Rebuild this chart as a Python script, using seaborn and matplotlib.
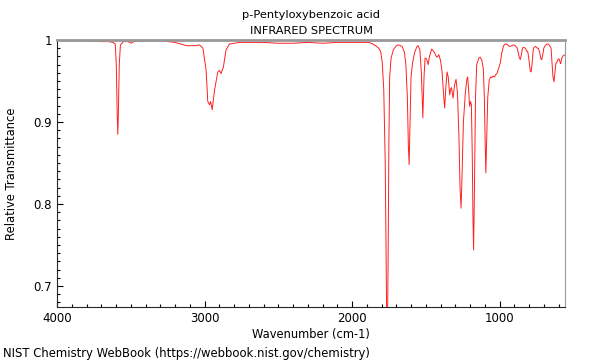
import numpy as np
import pandas as pd
import seaborn as sns
import matplotlib
matplotlib.use("Agg")
import matplotlib.pyplot as plt
from matplotlib.ticker import FixedLocator, MultipleLocator

# spectrum values (wavenumber cm-1, relative transmittance)
wavenumber = [
    4000, 3900, 3800, 3700, 3650, 3620, 3605, 3598, 3592, 3588, 3584, 3578, 3570, 3550,
    3520, 3495, 3480, 3400, 3300, 3250, 3200, 3160, 3120, 3100, 3081, 3060, 3034, 3011,
    2989, 2978, 2966, 2959, 2948, 2932, 2910, 2899, 2888, 2872, 2854, 2831, 2764, 2700,
    2600, 2500, 2400, 2300, 2200, 2100, 2000, 1950, 1900, 1885, 1860, 1840, 1820, 1806,
    1795, 1785, 1775, 1768, 1762, 1756, 1750, 1745, 1735, 1720, 1700, 1682, 1660, 1645,
    1635, 1625, 1618, 1613, 1607, 1600, 1590, 1575, 1560, 1552, 1540, 1530, 1520, 1512,
    1505, 1495, 1484, 1475, 1460, 1450, 1439, 1430, 1423, 1412, 1400, 1390, 1380, 1372,
    1365, 1356, 1348, 1338, 1332, 1326, 1320, 1315, 1305, 1295, 1285, 1275, 1268, 1261,
    1255, 1245, 1232, 1222, 1216, 1210, 1203, 1197, 1191, 1185, 1180, 1176, 1170, 1163,
    1155, 1140, 1131, 1120, 1110, 1103, 1097, 1093, 1088, 1080, 1070, 1060, 1052, 1045,
    1034, 1025, 1018, 1005, 995, 985, 973, 960, 951, 940, 930, 917, 905, 894, 880, 868,
    860, 852, 845, 838, 825, 815, 809, 800, 792, 786, 780, 772, 766, 755, 745, 737, 728,
    720, 714, 707, 700, 691, 680, 669, 660, 651, 645, 638, 631, 625, 618, 613, 605, 597,
    590, 586, 578, 568, 555,
]
transmittance = [
    0.999, 0.999, 0.999, 0.998, 0.998, 0.997, 0.995, 0.97, 0.91, 0.885, 0.91, 0.97, 0.994, 0.998,
    0.998, 0.996, 0.998, 0.999, 0.999, 0.998, 0.997, 0.995, 0.993, 0.993, 0.993, 0.993, 0.994, 0.99,
    0.963, 0.925, 0.921, 0.925, 0.915, 0.939, 0.961, 0.963, 0.959, 0.967, 0.988, 0.995, 0.997, 0.997,
    0.997, 0.996, 0.996, 0.997, 0.996, 0.997, 0.997, 0.997, 0.997, 0.997, 0.995, 0.993, 0.99, 0.986,
    0.972, 0.94, 0.85, 0.72, 0.60, 0.72, 0.88, 0.955, 0.978, 0.988, 0.993, 0.994, 0.992, 0.985,
    0.97, 0.93, 0.87, 0.848, 0.9, 0.955, 0.972, 0.985, 0.992, 0.993, 0.988, 0.96, 0.905, 0.955,
    0.978, 0.977, 0.97, 0.98, 0.989, 0.987, 0.984, 0.98, 0.979, 0.982, 0.975, 0.962, 0.935, 0.917,
    0.94, 0.961, 0.955, 0.933, 0.94, 0.942, 0.935, 0.929, 0.945, 0.952, 0.935, 0.88, 0.82, 0.795,
    0.83, 0.9, 0.935, 0.952, 0.955, 0.94, 0.919, 0.925, 0.921, 0.86, 0.78, 0.744, 0.82, 0.93,
    0.97, 0.978, 0.979, 0.975, 0.965, 0.93, 0.87, 0.838, 0.87, 0.93, 0.951, 0.955, 0.954, 0.956,
    0.955, 0.958, 0.959, 0.966, 0.972, 0.984, 0.993, 0.995, 0.995, 0.993, 0.992, 0.993, 0.994, 0.993, 0.99, 0.98,
    0.976, 0.982, 0.99, 0.991, 0.99, 0.986, 0.986, 0.975, 0.962, 0.961, 0.97, 0.988, 0.991, 0.992, 0.99, 0.99, 0.985,
    0.977, 0.976, 0.982, 0.99, 0.993, 0.995, 0.995, 0.993, 0.99, 0.975, 0.955, 0.949, 0.96, 0.972, 0.972, 0.976, 0.977,
    0.973, 0.971, 0.978, 0.981, 0.982,
]

x_ticks = [4000, 3000, 2000, 1000]
x_tick_labels = ["4000", "3000", "2000", "1000"]
y_ticks = [0.7, 0.8, 0.9, 1.0]
y_tick_labels = ["0.7", "0.8", "0.9", "1"]

df = pd.DataFrame({"wavenumber": wavenumber, "transmittance": transmittance})

sns.set_style("ticks")
plt.rcParams["font.family"] = ["DejaVu Sans"]
plt.rcParams["text.color"] = "black"
plt.rcParams["axes.labelcolor"] = "black"

fig = plt.figure(figsize=(6, 3.6), dpi=100)
ax = fig.add_axes([0.095, 0.147, 0.847, 0.742])

sns.lineplot(data=df, x="wavenumber", y="transmittance", ax=ax,
             color="#ff2020", linewidth=0.7, estimator=None)

ax.set_xlim(4000, 555)
ax.set_ylim(0.6744, 1.0)

ax.xaxis.set_major_locator(FixedLocator(x_ticks))
ax.set_xticklabels(x_tick_labels)
ax.xaxis.set_minor_locator(MultipleLocator(100))
ax.yaxis.set_major_locator(FixedLocator(y_ticks))
ax.set_yticklabels(y_tick_labels)
ax.yaxis.set_minor_locator(MultipleLocator(0.01))
ax.tick_params(which="both", direction="in", labelsize=8.5, width=0.8, colors="black")
ax.tick_params(which="major", length=4)
ax.tick_params(which="minor", length=2.5)

ax.spines["top"].set_color("#999999")
ax.spines["top"].set_linewidth(2)
ax.spines["right"].set_color("#999999")
ax.spines["right"].set_linewidth(0.8)
ax.spines["left"].set_linewidth(0.8)
ax.spines["bottom"].set_linewidth(0.8)

ax.set_xlabel("Wavenumber (cm-1)", fontsize=8.3, labelpad=2)
ax.set_ylabel("Relative Transmittance", fontsize=8.3, labelpad=11)
ax.set_title("p-Pentyloxybenzoic acid\nINFRARED SPECTRUM", fontsize=8.2, pad=4,
             linespacing=1.75, color="black")

fig.text(0.005, 0.019, "NIST Chemistry WebBook (https://webbook.nist.gov/chemistry)",
         fontsize=8.4, ha="left", va="center")

plt.savefig("out.png", dpi=100)
plt.close()
